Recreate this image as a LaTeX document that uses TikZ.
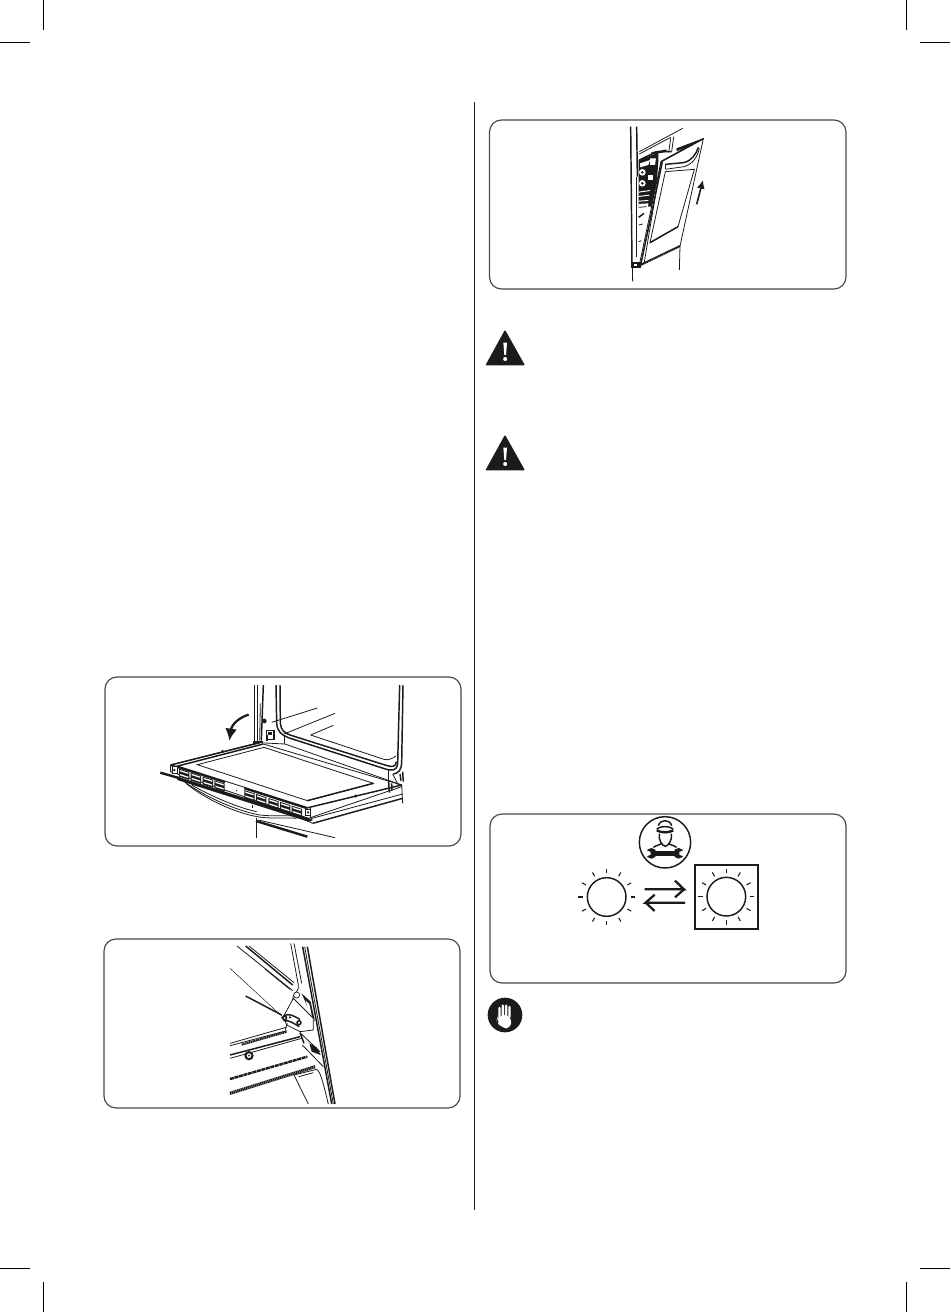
\documentclass[tikz,border=0pt]{standalone}
\usetikzlibrary{arrows.meta}
\definecolor{ink}{HTML}{1C1A1A}
\definecolor{frame}{HTML}{4A4A4A}
\tikzset{
  x=0.75pt,y=-0.75pt,
  line join=round,
  ln/.style={draw=ink,line width=0.6pt},
  thn/.style={draw=ink,line width=0.35pt},
  thk/.style={draw=ink,line width=1.1pt},
  hvy/.style={draw=ink,line width=1.8pt},
  hatch/.style={draw=ink,line width=1.6pt,dash pattern=on 1pt off 0.4pt},
  panel/.style={draw=frame,line width=0.9pt,rounded corners=9pt,fill=white},
  crop/.style={draw=black,line width=0.75pt},
  zoomed/.style={shift={(#1)},x=0.25pt,y=-0.25pt},
  ray/.style={draw=ink,line width=0.8pt},
  warn/.style={fill=ink,draw=ink,line width=1.2pt,line join=round}
}
\begin{document}
\begin{tikzpicture}
\useasboundingbox (0,0) rectangle (950,1312);
\fill[white] (0,0) rectangle (950,1312);
% crop marks
\draw[crop] (43,0)--(43,30);\draw[crop] (0,43)--(30,43);
\draw[crop] (906,0)--(906,30);\draw[crop] (920,43)--(950,43);
\draw[crop] (43,1282)--(43,1312);\draw[crop] (0,1268)--(30,1268);
\draw[crop] (906,1282)--(906,1312);\draw[crop] (920,1268)--(950,1268);
% divider
\draw[draw=ink,line width=0.75pt] (474,102)--(474,1210);
% panels
\draw[panel] (489.5,120) rectangle (846,289);
\draw[panel] (105,677) rectangle (461,846);
\draw[panel] (104,939) rectangle (460,1108);
\draw[panel] (490,814) rectangle (846,983);

% ---------- Panel A: door upright
\begin{scope}[zoomed={480,110}]
\draw[thk] (452,50)--(456,465);
\draw[thk] (470,50)--(472,200);
\draw[ln] (470,200)--(470,440);
\draw[ln] (457,465)--(458,515);
\draw[ln] (478,125)--(608,55);
\draw[ln] (478,132)--(572,82);
\draw[ln] (572,85)--(566,128);
\draw[ln] (581,80)--(575,125);
\draw[thk] (478,150)--(530,125)--(575,125);
\draw[hvy] (515,130)--(560,122);
\draw[ln] (590,116)--(668,87);
\draw[hvy] (590,120)--(655,95);
% oven interior clutter
\fill[ink] (476,150)--(535,128)--(535,155)--(525,290)--(476,290)--cycle;
\fill[white] (480,160)--(510,150)--(505,165)--(480,172)--cycle;
\fill[white] (487,187) circle (10);
\fill[ink] (487,187) circle (4);
\fill[white] (487,220) circle (10);
\fill[ink] (487,220) circle (4);
\fill[white] (503,195) rectangle (518,210);
\fill[white] (510,145)--(528,145)--(525,165)--(510,165)--cycle;
\fill[white] (476,245)--(510,240)--(510,243)--(476,248)--cycle;
\fill[white] (476,258)--(508,254)--(508,257)--(476,261)--cycle;
\fill[white] (476,272)--(505,270)--(505,273)--(476,275)--cycle;
\fill[white] (476,282)--(505,280)--(503,310)--(476,315)--cycle;
\draw[ln] (476,292)--(500,290);
\draw[thk] (476,322)--(492,310);
\draw[ln] (476,345)--(488,342);
\draw[ln] (476,395)--(484,392);
% door
\draw[ln,fill=white] (478,465)--(543,155)--(670,86)--(600,408)--cycle;
\draw[thk] (482,465)--(547,155);
\draw[ln] (492,462)--(543,155);
\draw[hatch] (480,466)--(600,408);
\draw[thk] (543,155)--(670,86);
\draw[ln] (510,398)--(594,350)--(643,178)--(556,185)--cycle;
\draw[thk] (510,398)--(594,350);
\draw[thk] (557,163)--(610,158) .. controls (635,153) and (648,133) .. (655,112);
\draw[ln] (556,178)--(612,170) .. controls (640,162) and (652,140) .. (658,115);
\draw[ln] (556,163)--(556,178);
\draw[ln] (600,408)--(598,480);
\draw[thk,fill=ink] (456,458) rectangle (480,472);
\fill[white] (462,463) rectangle (472,468);
% arrow
\draw[draw=ink,line width=1.2pt,-{Latex[length=6.5pt,width=6pt]}] (650,283)--(669,210);
\end{scope}

% ---------- Panel B: open door
\begin{scope}[zoomed={100,670}]
\draw[thk] (463,45)--(463,212);
\draw[thk] (472,45)--(472,212);
\draw[thk] (490,45)--(484,212);
\draw[ln] (481,100)--(479,212);
\draw[thk] (528,45)--(530,160) .. controls (532,185) and (545,195) .. (565,203)--(850,295) .. controls (875,303) and (890,305) .. (893,280)--(899,45);
\draw[thk] (540,45)--(541,160) .. controls (543,180) and (552,188) .. (570,195)--(855,285) .. controls (880,293) and (887,290) .. (889,275);
\draw[thk] (909,45)--(905,280) .. controls (904,300) and (895,310) .. (880,312);
\draw[ln] (515,157)--(652,114);
\draw[ln] (552,192)--(705,130);
\draw[ln] (632,195)--(700,166);
\draw[ln] (632,195)--(852,268) .. controls (865,272) and (878,265) .. (888,258);
\fill[ink] (493,153) circle (7);
\draw[thk,fill=white] (500,182) rectangle (522,208);
\fill[ink] (505,185) rectangle (516,196);
\fill[ink] (460,212) rectangle (490,222);
\fill[ink] (497,196) rectangle (503,212);
\draw[ln] (553,195)--(553,228);
% door
\draw[ln,fill=white] (212,285)--(475,218)--(555,222)--(905,345)--(905,350)--(625,445)--(212,305)--cycle;
\draw[thk] (212,285)--(480,218);
\draw[thk] (218,292)--(490,222);
\draw[thk] (212,285)--(620,414);
\draw[thk] (620,414)--(905,345);
\draw[ln] (490,222)--(905,345);
\draw[ln] (292,284)--(492,232)--(820,340)--(622,392)--cycle;
\draw[thk] (622,392)--(820,340);
\fill[ink] (368,244) circle (5);
\draw[ln] (212,285)--(212,305);
\draw[ln] (632,410)--(632,445);
\draw[hvy] (232,290)--(620,414);
% vents band
\fill[ink] (232,320)--(620,442)--(640,450)--(625,455)--(232,330)--cycle;
\fill[white] (375,335) -- (432,353) -- (432,372) -- (375,355) -- cycle;
\foreach \vx in {237,272,308,343,433,468,505,540,575}{
  \pgfmathsetmacro{\vy}{296+(\vx-237)*0.328}
  \fill[ink] (\vx,\vy)--(\vx+31,\vy+10)--(\vx+31,\vy+34)--(\vx,\vy+24)--cycle;
  \fill[white] (\vx+3,\vy+4)--(\vx+28,\vy+12)--(\vx+28,\vy+16)--(\vx+3,\vy+8)--cycle;
  \fill[white] (\vx+3,\vy+16)--(\vx+28,\vy+24)--(\vx+28,\vy+28)--(\vx+3,\vy+20)--cycle;
}
\fill[white] (218,290) rectangle (232,310);
\draw[thk] (218,290) rectangle (232,310);
\fill[ink] (223,300) circle (4);
\draw[thk] (616,418) rectangle (632,436);
\fill[ink] (624,427) circle (4);
\fill[ink] (410,362) circle (2);
% left lip and handle
\draw[hvy] (181,308)--(240,325);
\draw[ln] (250,333) .. controls (320,385) and (420,425) .. (480,435) .. controls (520,440) and (555,435) .. (590,438);
\draw[ln] (258,340) .. controls (325,395) and (425,435) .. (485,442) .. controls (520,446) and (555,442) .. (590,445);
\draw[ln] (275,345) .. controls (335,380) and (420,415) .. (470,425);
\draw[ln] (456,405)--(456,415);
% lower frame
\draw[ln] (468,445)--(468,505);
\draw[hvy] (468,453)--(622,500);
\draw[ln] (475,450)--(705,503);
\draw[thk] (638,460)--(908,385);
\draw[ln] (590,438)--(638,460);
\draw[ln] (632,446)--(908,372);
\draw[ln] (905,345)--(908,400);
\fill[ink] (767,378) circle (5);
% hinge right
\draw[thk] (900,312)--(903,332);
\draw[thk] (908,305)--(910,335);
\draw[thk] (866,335)--(868,368);
\draw[thk] (875,340)--(876,362);
\draw[ln] (865,300)--(865,335);
\draw[ln] (878,312)--(895,345);
% arrow
\draw[draw=ink,line width=1.7pt,-{Latex[length=9pt,width=9pt]}] (446,134) .. controls (415,143) and (395,165) .. (388,212);
\end{scope}

% ---------- Panel C: hinge
\begin{scope}[zoomed={100,930}]
\draw[ln] (411,48)--(578,182);
\draw[thk] (437,48)--(578,165);
\draw[ln] (447,48)--(582,158);
\draw[ln] (495,117)--(570,178);
\draw[ln] (572,40)--(595,165);
\draw[ln] (582,40)--(605,160);
\draw[ln] (595,165) .. controls (597,180) and (590,185) .. (580,195);
\draw[ln] (580,195)--(578,212);
\fill[white,draw=ink,line width=0.5pt] (590,195) circle (9);
\draw[thn] (390,115)--(545,258);
\draw[thk] (437,198)--(545,255);
% hinge plate
\draw[ln,fill=white] (580,205)--(640,265)--(640,300)--(600,305)--(560,285)--(550,260)--cycle;
\draw[thk] (545,265) .. controls (560,245) and (575,255) .. (600,268);
\draw[thk] (550,272) .. controls (570,270) and (580,280) .. (598,290);
\fill[ink] (554,264) circle (8);
\fill[white] (554,264) circle (3);
\fill[ink] (570,262) circle (4);
\draw[thk,fill=white] (597,278) circle (6);
\draw[ln] (562,280)--(556,300);
% thick right edge
\fill[ink] (605,190)--(632,215)--(645,275)--(622,230)--cycle;
\fill[white] (617,212)--(628,222)--(635,255)--(624,238)--cycle;
\fill[ink] (628,340)--(650,352)--(662,375)--(635,365)--cycle;
\draw[thk] (608,50)--(695,522);
\draw[thk] (622,50)--(705,522);
\draw[ln] (614,50)--(700,522);
% body
\draw[ln] (390,340)--(558,292);
\draw[ln] (390,347)--(560,302);
\draw[hatch] (425,344)--(560,305);
\draw[thk] (390,375)--(600,320);
\draw[ln] (390,385)--(605,325);
\draw[ln] (600,308)--(660,365);
\draw[thk] (600,308)--(612,340);
\draw[ln] (607,345)--(670,410);
\draw[hvy,dash pattern=on 3pt off 0.5pt] (390,447)--(622,380);
\draw[hatch,line width=2.4pt] (390,490)--(645,410);
\draw[ln] (582,435)--(625,522);
\draw[ln] (582,435)--(650,418) .. controls (660,425) and (665,440) .. (685,522);
\draw[ln] (596,440)--(640,428);
\fill[ink] (447,377) circle (14);
\fill[white] (447,377) circle (7);
\fill[ink] (447,377) circle (3);
\end{scope}

% ---------- Panel D: icons
\begin{scope}[zoomed={480,805}]
% technician
\draw[draw=ink,line width=1.1pt] (555,112) circle (77);
\draw[thk] (535,62) .. controls (540,42) and (570,42) .. (575,62);
\draw[thk] (530,72) .. controls (545,62) and (565,62) .. (580,72);
\draw[hvy] (530,76) .. controls (545,84) and (565,84) .. (580,76);
\draw[thk] (538,86) .. controls (535,107) and (547,122) .. (556,124) .. controls (565,122) and (577,107) .. (574,86);
\draw[thk] (520,127) .. controls (530,120) and (542,120) .. (546,114);
\draw[thk] (590,127) .. controls (580,120) and (568,120) .. (566,114);
\fill[ink] (514,145) circle (16);
\fill[ink] (596,145) circle (16);
\fill[ink] (514,137) rectangle (596,153);
\fill[white] (495,134)--(512,141)--(512,149)--(495,156)--cycle;
\fill[white] (615,134)--(598,141)--(598,149)--(615,156)--cycle;
% left lamp
\draw[draw=ink,line width=1.1pt] (380,276) circle (58);
\foreach \a in {0,30,...,330}{
  \draw[ray] (380,276) ++(\a:72) -- ++(\a:13);
}
% right lamp
\draw[draw=ink,line width=1.6pt] (644,179) rectangle (834,372);
\draw[draw=ink,line width=1.1pt] (739,275) circle (58);
\foreach \a in {0,30,...,330}{
  \draw[ray] (739,275) ++(\a:70) -- ++(\a:14);
}
% arrows
\draw[draw=ink,line width=1.7pt] (494,253)--(612,253)--(585,227);
\draw[draw=ink,line width=1.7pt] (612,253)--(585,277);
\draw[draw=ink,line width=1.7pt] (615,293)--(497,293)--(524,269);
\draw[draw=ink,line width=1.7pt] (497,293)--(524,318);
% stop hand
\fill[ink] (75,630) circle (52);
\fill[white,rounded corners=1pt] (55,605) rectangle (62,640);
\fill[white,rounded corners=1pt] (65,598) rectangle (72,640);
\fill[white,rounded corners=1pt] (75,598) rectangle (82,640);
\fill[white,rounded corners=1pt] (85,602) rectangle (92,640);
\fill[white,rounded corners=5pt] (55,630)--(92,630)--(95,670)--(62,670)--(50,645)--cycle;
\end{scope}

% ---------- Warning triangles
\begin{scope}[zoomed={480,320}]
\foreach \ty in {0,315}{
  \begin{scope}[shift={(0,\ty)}]
  \filldraw[warn] (75,34)--(131,134)--(20,134)--cycle;
  \fill[white] (70,68)--(81,68)--(78,105)--(73,105)--cycle;
  \fill[white] (75.5,117) circle (6);
  \end{scope}
}
\end{scope}
\end{tikzpicture}
\end{document}
